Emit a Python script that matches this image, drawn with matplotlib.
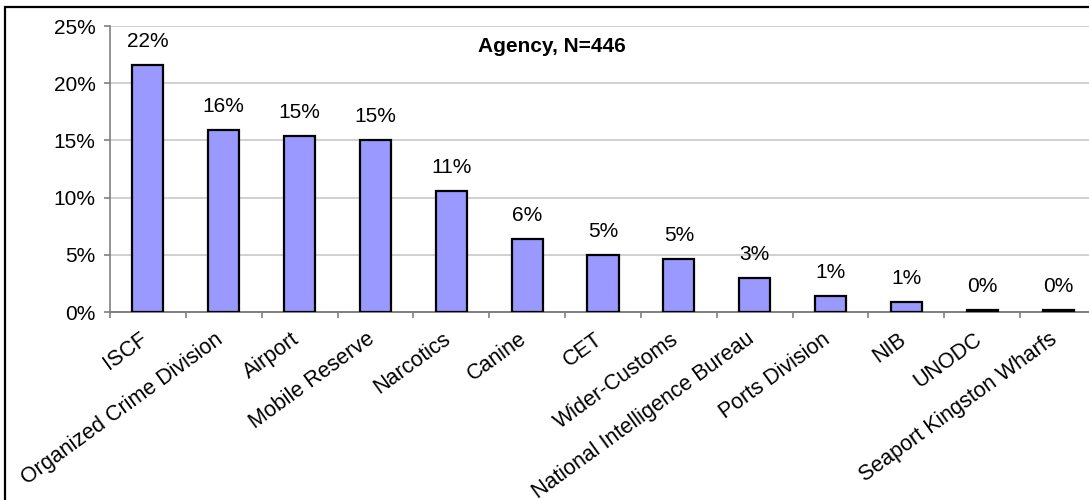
import matplotlib
matplotlib.use("Agg")
import matplotlib.pyplot as plt
import matplotlib.transforms as mtransforms
from matplotlib.patches import Rectangle
from matplotlib.ticker import FuncFormatter, FixedLocator

plt.rcParams["font.family"] = ["Liberation Sans", "DejaVu Sans"]

agencies = ["ISCF", "Organized Crime Division", "Airport", "Mobile Reserve",
            "Narcotics", "Canine", "CET", "Wider-Customs",
            "National Intelligence Bureau", "Ports Division", "NIB",
            "UNODC", "Seaport Kingston Wharfs"]
shares = [21.6, 15.9, 15.4, 15.0, 10.6, 6.4, 5.0, 4.6, 3.0, 1.4, 0.9, 0.2, 0.2]
share_labels = ["22%", "16%", "15%", "15%", "11%", "6%", "5%", "5%",
                "3%", "1%", "1%", "0%", "0%"]

W, H = 1089, 500
fig = plt.figure(figsize=(W / 100, H / 100), dpi=100)
ax = fig.add_axes([110 / W, 188 / H, 986 / W, 286 / H])

x = list(range(len(agencies)))
ax.bar(x, shares, width=0.41, color="#9999ff", edgecolor="black", linewidth=1.6, zorder=3)

for xi, v, lab in zip(x, shares, share_labels):
    ax.annotate(lab, (xi, v), xytext=(0, 17), textcoords="offset points",
                ha="center", va="center", fontsize=15)

ax.set_xlim(-0.5, len(agencies) - 0.5)
ax.set_ylim(0, 25)
ax.yaxis.set_major_locator(FixedLocator([0, 5, 10, 15, 20, 25]))
ax.yaxis.set_major_formatter(FuncFormatter(lambda v, p: f"{v:.0f}%"))
ax.grid(axis="y", color="#c8c8c8", linewidth=1.2, zorder=0)

ax.set_xticks(x)
ax.set_xticklabels(agencies, rotation=36, ha="right", rotation_mode="anchor", fontsize=15.5)
ax.set_xticks([i - 0.5 for i in range(len(agencies) + 1)], minor=True)
ax.tick_params(axis="x", which="major", length=0, pad=12)
ax.tick_params(axis="x", which="minor", length=4.5, color="#808080", width=1.2)
ax.tick_params(axis="y", length=4.5, color="#808080", width=1.2, labelsize=15, pad=6)
# nudge the rotated labels left, Excel-style
shift = mtransforms.ScaledTranslation(-9 / 100, 0, fig.dpi_scale_trans)
for t in ax.get_xticklabels():
    t.set_transform(t.get_transform() + shift)

for s in ["top", "right"]:
    ax.spines[s].set_visible(False)
ax.spines["left"].set_color("#808080")
ax.spines["bottom"].set_color("#808080")
ax.spines["left"].set_linewidth(1.2)
ax.spines["bottom"].set_linewidth(1.4)

ax.text(0.448, 0.93, "Agency, N=446", transform=ax.transAxes, ha="center", va="center",
        fontsize=15, fontweight="bold")

fig.add_artist(Rectangle((5 / W, -0.1), 1.2, 1.1 - 7 / H, transform=fig.transFigure,
                         fill=False, edgecolor="black", linewidth=1.6))

fig.savefig("out.png", dpi=100)
